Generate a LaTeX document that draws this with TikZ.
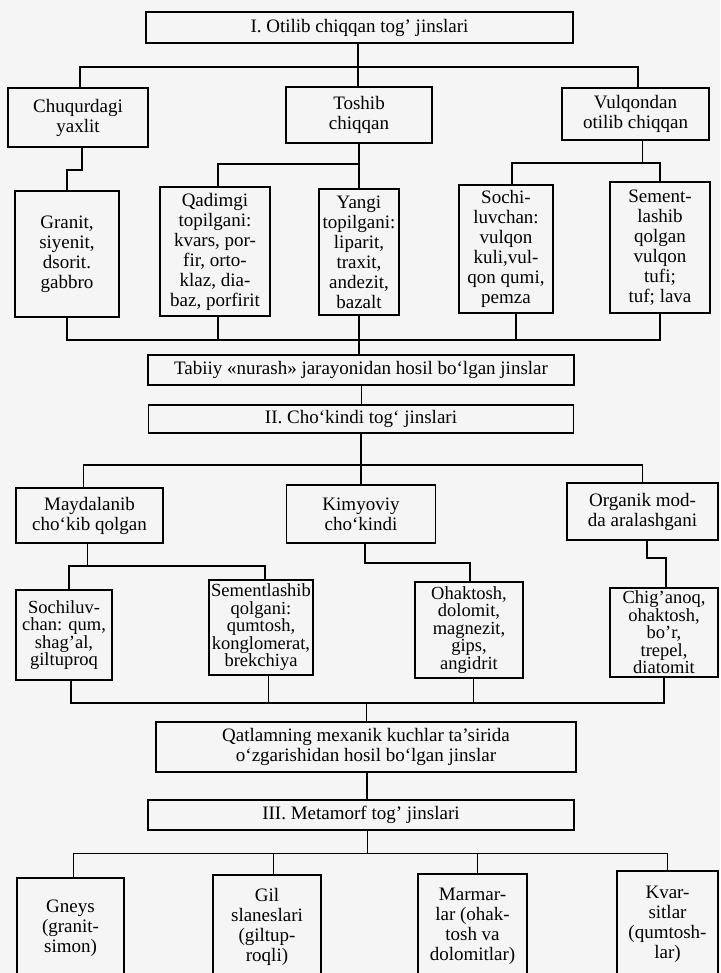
\documentclass[tikz,border=0pt]{standalone}
\usepackage{fontspec}
\setmainfont{Liberation Serif}
\usetikzlibrary{calc}

\tikzset{
  box/.style={draw, line width=1.4pt, align=center, inner sep=0pt,
    font=\fontsize{19}{20}\selectfont},
  tightbox/.style={box, font=\fontsize{18.5}{17.5}\selectfont},
  link/.style={line width=1.8pt},
  thinlink/.style={line width=1pt}
}

\begin{document}
\begin{tikzpicture}[x=1pt,y=-1pt]
				%%%%% START %%%%%
				\def\busone{67}
				\def\bustwo{340}
				\def\busthree{465}
				\def\busfour{703}
				\def\busfive{853}
				
				\useasboundingbox (0,0) rectangle (720,973);
				\clip (0,0) rectangle (720,973);
				\fill[black!4] (0,0) rectangle (720,973);
				
				% I
				\node[box, minimum width=427, minimum height=31] (top) at (359.5,27.5) {I. Otilib chiqqan tog’ jinslari};
				\node[box, minimum width=140, minimum height=59] (chuq) at (78,117.5) {Chuqurdagi\\yaxlit};
				\node[box, minimum width=146, minimum height=56] (toshib) at (359,115) {Toshib\\chiqqan};
				\node[box, minimum width=147, minimum height=52] (vulq) at (635.5,114) {Vulqondan\\otilib chiqqan};
				
				\node[box, minimum width=104, minimum height=126] (granit) at (67,254) {Granit,\\siyenit,\\dsorit.\\gabbro};
				\node[box, minimum width=110, minimum height=129] (qadim) at (215,251.5) {Qadimgi\\topilgani:\\kvars, por-\\fir, orto-\\klaz, dia-\\baz, porfirit};
				\node[box, minimum width=80, minimum height=126] (yangi) at (359,252) {Yangi\\topilgani:\\liparit,\\traxit,\\andezit,\\bazalt};
				\node[box, minimum width=94, minimum height=128] (sochi) at (506,249) {Sochi-\\luvchan:\\vulqon\\kuli,vul-\\qon qumi,\\pemza};
				\node[box, minimum width=100, minimum height=131] (sement) at (660,247.5) {Sement-\\lashib\\qolgan\\vulqon\\tufi;\\tuf; lava};
				
				\coordinate (busA) at (358,\busone);
				\draw[link] (top.south -| busA) -- (busA);
				\draw[link] ([xshift=2]chuq.north) |- (busA) -| ([xshift=2.5]vulq.north);
				\draw[link] (busA) -- (toshib.north -| busA);
				
				\draw[link] ([xshift=4]chuq.south) -- ++(0,22) -| (granit.north);
				\draw[link] (toshib) -- (yangi);
				\draw[link] (toshib.south) -- ++(0,20) coordinate (busT) -| ([xshift=3]qadim.north);
				\draw[link] ([xshift=7]vulq.south) -- ++(0,22) coordinate (busV);
				\draw[link] ([xshift=6]sochi.north) |- (busV) -| (sement.north);
				
				% nurash
				\node[box, minimum width=426, minimum height=30] (tabiiy) at (361,370) {Tabiiy «nurash» jarayonidan hosil bo‘lgan jinslar};
				
				\coordinate (busC) at (0,\bustwo);
				\draw[link] (granit.south) |- (busC -| sement.south) -- (sement.south);
				\draw[link] ([xshift=3]qadim.south) -- ([xshift=3]qadim.south |- busC);
				\draw[link] (yangi.south) -- (tabiiy.north -| yangi.south);
				\draw[link] ([xshift=10]sochi.south) -- ([xshift=10]sochi.south |- busC);
				
				% II
				\node[box, minimum width=425, minimum height=28] (chok) at (361,419) {II. Cho‘kindi tog‘ jinslari};
				\draw[thinlink] (tabiiy) -- (chok);
				
				\node[box, minimum width=147, minimum height=55] (maydal) at (89.5,515.5) {Maydalanib\\cho‘kib qolgan};
				\node[box, minimum width=149, minimum height=58] (kimyo) at (361,514) {Kimyoviy\\cho‘kindi};
				\node[box, minimum width=151, minimum height=57] (organik) at (642.5,511.5) {Organik mod-\\da aralashgani};
				
				\coordinate (busII) at (0,\busthree);
				\draw[link] (chok) -- (kimyo);
				\draw[link] ([xshift=-6]maydal.north) |- (busII -| organik.north) -- (organik.north);
				
				\node[tightbox, minimum width=96, minimum height=90] (sochil) at (64,635) {Sochiluv-\\chan: qum,\\shag’al,\\giltuproq};
				\node[tightbox, minimum width=104, minimum height=95] (sementl) at (261,627.5) {Sementlashib\\qolgani:\\qumtosh,\\konglomerat,\\brekchiya};
				\node[tightbox, minimum width=108, minimum height=96] (ohak) at (469,630) {Ohaktosh,\\dolomit,\\magnezit,\\gips,\\angidrit};
				\node[tightbox, minimum width=108, minimum height=89] (chig) at (664,632.5) {Chig’anoq,\\ohaktosh,\\bo’r,\\trepel,\\diatomit};
				
				\draw[link] ([xshift=-2]maydal.south) -- ++(0,22) coordinate (busM);
				\draw[link] ([xshift=5]sochil.north) |- (busM) -| ([xshift=4]sementl.north);
				\draw[link] ([xshift=4]kimyo.south) -- ++(0,19) -| ([xshift=1]ohak.north);
				\draw[link] ([xshift=4.5]organik.south) -- ++(0,17) -| ([xshift=2]chig.north);
				
				% deformatsiya
				\node[box, minimum width=420, minimum height=50] (qatlam) at (366,747) {Qatlamning mexanik kuchlar ta’sirida\\o‘zgarishidan hosil bo‘lgan jinslar};
				
				\coordinate (busG) at (0,\busfour);
				\draw[link] ([xshift=7]sochil.south) |- (busG -| chig.south) -- (chig.south);
				\draw[thinlink] ([xshift=7]sementl.south) -- ([xshift=7]sementl.south |- busG);
				\draw[thinlink] ([xshift=4]ohak.south) -- ([xshift=4]ohak.south |- busG);
				\draw[thinlink] (qatlam.north |- busG) -- (qatlam.north);
				
				% III
				\node[box, minimum width=426, minimum height=30] (metam) at (361,815) {III. Metamorf tog’ jinslari};
				\draw[link] ([xshift=1]qatlam.south) -- ([xshift=1]qatlam.south |- metam.north);
				
				\node[box, minimum width=107, minimum height=100] (gneys) at (70.5,928) {Gneys\\(granit-\\simon)};
				\node[box, minimum width=108, minimum height=103] (gil) at (267,926.5) {Gil\\slaneslari\\(giltup-\\roqli)};
				\node[box, minimum width=109, minimum height=104] (marmar) at (472.5,926) {Marmar-\\lar (ohak-\\tosh va\\dolomitlar)};
				\node[box, minimum width=101, minimum height=107] (kvar) at (667.5,924.5) {Kvar-\\sitlar\\(qumtosh-\\lar)};
				
				\coordinate (busIII) at (0,\busfive);
				\draw[thinlink] ([xshift=6]metam.south) -- ([xshift=6]metam.south |- busIII);
				\draw[thinlink] ([xshift=2.5]gneys.north) |- (busIII -| kvar.north) -- (kvar.north);
				\draw[thinlink] ([xshift=6]gil.north) -- ([xshift=6]gil.north |- busIII);
				\draw[thinlink] ([xshift=4.5]marmar.north) -- ([xshift=4.5]marmar.north |- busIII);
				%%%%% END %%%%%
\end{tikzpicture}
\end{document}
